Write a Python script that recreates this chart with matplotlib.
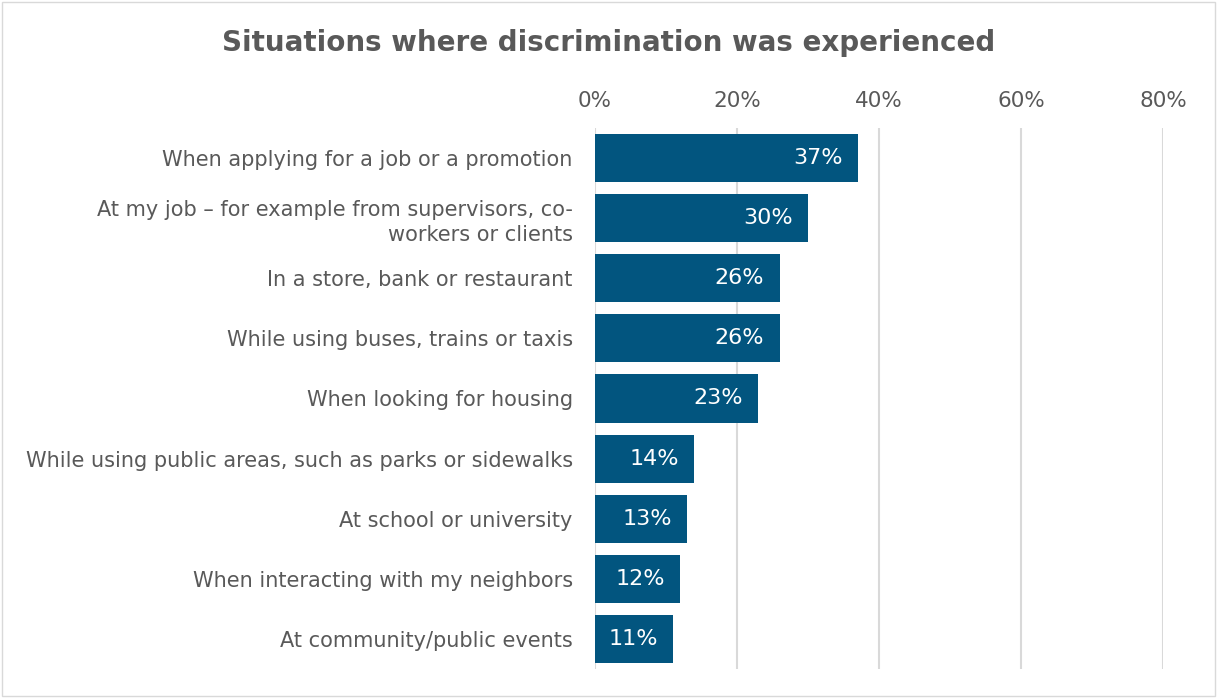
import matplotlib.pyplot as plt
from matplotlib.patches import Rectangle

# data
categories = [
    "When applying for a job or a promotion",
    "At my job \u2013 for example from supervisors, co-\nworkers or clients",
    "In a store, bank or restaurant",
    "While using buses, trains or taxis",
    "When looking for housing",
    "While using public areas, such as parks or sidewalks",
    "At school or university",
    "When interacting with my neighbors",
    "At community/public events",
]
values = [37, 30, 26, 26, 23, 14, 13, 12, 11]
xticks = [0, 20, 40, 60, 80]

bar_color = "#02557F"
text_color = "#595959"
grid_color = "#D9D9D9"

plt.rcParams['font.family'] = ['DejaVu Sans']

fig = plt.figure(figsize=(12.17, 6.98), dpi=100)
ax = fig.add_axes([595 / 1217, 1 - 669 / 698, (1163 - 595) / 1217, (669 - 128) / 698])

y = list(range(len(categories)))
ax.barh(y, values, height=0.8, color=bar_color, zorder=3)

ax.set_xlim(0, 80)
ax.set_ylim(len(categories) - 0.5, -0.5)
ax.set_xticks(xticks)
ax.set_xticklabels([f"{t}%" for t in xticks])
ax.xaxis.tick_top()
ax.tick_params(axis='x', length=0, labelsize=15.5, labelcolor=text_color, pad=12)
ax.set_yticks(y)
ax.set_yticklabels(categories, fontsize=15, color=text_color, linespacing=1.3)
ax.tick_params(axis='y', length=0, pad=16)
for lbl in ax.get_yticklabels():
    lbl.set_horizontalalignment('right')
    lbl.set_multialignment('right')

ax.grid(axis='x', color=grid_color, linewidth=1.5, zorder=0)
for s in ax.spines.values():
    s.set_visible(False)

# value labels inside the bar end
for yi, v in zip(y, values):
    ax.annotate(f"{v}%", xy=(v, yi), xytext=(-11, 0), textcoords='offset points',
                ha='right', va='center', color='white', fontsize=16, zorder=4)

fig.text(0.5, 1 - 43 / 698, "Situations where discrimination was experienced",
         ha='center', va='center', fontsize=20, fontweight='bold', color=text_color)

fig.patches.append(Rectangle((0.002, 0.003), 0.996, 0.994, transform=fig.transFigure,
                             fill=False, edgecolor=grid_color, linewidth=1))

fig.savefig("out.png", dpi=100)
